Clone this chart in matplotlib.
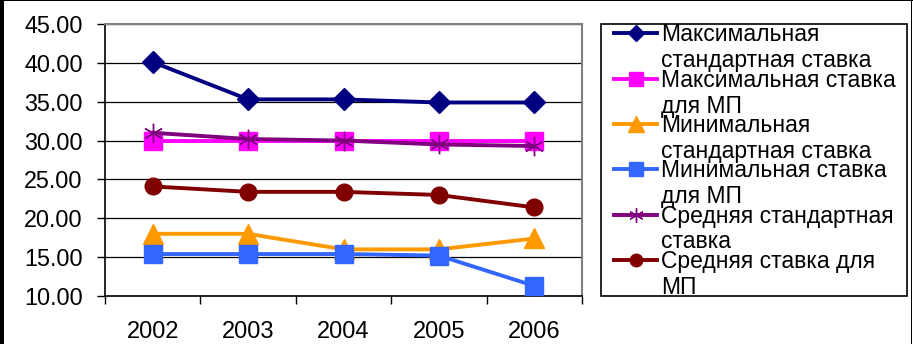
import matplotlib
matplotlib.use('Agg')
import matplotlib.pyplot as plt
from matplotlib.lines import Line2D
from matplotlib.patches import Rectangle

plt.rcParams['font.family'] = ['Liberation Sans', 'DejaVu Sans']

years = ['2002', '2003', '2004', '2005', '2006']
max_std = [40.1, 35.3, 35.3, 34.9, 34.9]
max_mp = [30.0, 30.0, 30.0, 30.0, 30.0]
min_std = [18.0, 18.0, 16.0, 16.0, 17.4]
min_mp = [15.4, 15.4, 15.4, 15.2, 11.3]
avg_std = [31.0, 30.2, 30.0, 29.5, 29.3]
avg_mp = [24.1, 23.4, 23.4, 23.0, 21.4]

labels = [
    ['Максимальная', 'стандартная ставка'],
    ['Максимальная ставка', 'для МП'],
    ['Минимальная', 'стандартная ставка'],
    ['Минимальная ставка', 'для МП'],
    ['Средняя стандартная', 'ставка'],
    ['Средняя ставка для', 'МП'],
]

W, H = 913, 344
fig = plt.figure(figsize=(W / 100, H / 100), dpi=100)
fig.patch.set_facecolor('white')


def fx(px):
    return px / W


def fy(py):
    return 1 - py / H


ax = fig.add_axes([fx(105), fy(296), fx(582) - fx(105), fy(24) - fy(296)])

styles = [
    dict(color='#000080', marker='D', ms=11, mfc='#000080', mec='#000080'),
    dict(color='#FF00FF', marker='s', ms=13, mfc='#FF00FF', mec='#FF00FF'),
    dict(color='#FF9900', marker='^', ms=15, mfc='#FF9900', mec='#FF9900'),
    dict(color='#3366FF', marker='s', ms=13, mfc='#3366FF', mec='#3366FF'),
    dict(color='#800080', marker=(6, 2, 0), ms=14, mec='#800080', mew=1),
    dict(color='#800000', marker='o', ms=12, mfc='#800000', mec='#800000'),
]
series = [max_std, max_mp, min_std, min_mp, avg_std, avg_mp]
x = list(range(len(years)))
for vals, st in zip(series, styles):
    ax.plot(x, vals, lw=2.8, clip_on=False, zorder=3, **st)

ax.set_xlim(-0.5, len(years) - 0.5)
ax.set_ylim(10, 45)
ax.set_yticks([10, 15, 20, 25, 30, 35, 40, 45])
ax.set_yticklabels(['%.2f' % v for v in [10, 15, 20, 25, 30, 35, 40, 45]])
ax.yaxis.grid(True, color='black', lw=0.9)
ax.set_axisbelow(True)

ax.set_xticks([i - 0.5 for i in range(len(years) + 1)])
ax.set_xticklabels([])
ax.set_xticks(x, minor=True)
ax.set_xticklabels(years, minor=True)
ax.tick_params(axis='x', which='major', length=6, width=1, direction='out', color='black')
ax.tick_params(axis='x', which='minor', length=0, pad=18, labelsize=17)
ax.tick_params(axis='y', length=6, width=1, direction='out', pad=10, labelsize=16.8)

for s in ['left', 'bottom']:
    ax.spines[s].set_color('black')
    ax.spines[s].set_linewidth(1.2)
for s in ['top', 'right']:
    ax.spines[s].set_color('#808080')
    ax.spines[s].set_linewidth(1.5)

# legend box
fig.patches.append(Rectangle((fx(601), fy(296)), fx(907) - fx(601), fy(24) - fy(296),
                             transform=fig.transFigure, fill=False, ec='black', lw=1.2))
for i, (lab, st) in enumerate(zip(labels, styles)):
    my = 33.3 + 45.3 * i
    fig.lines.append(Line2D([fx(614), fx(657)], [fy(my), fy(my)], transform=fig.transFigure,
                            lw=2.8, color=st['color']))
    mst = {k: v for k, v in st.items() if k != 'color'}
    mst['ms'] = mst['ms'] * 0.75
    fig.lines.append(Line2D([fx(635.5)], [fy(my)], transform=fig.transFigure, ls='none', **mst))
    fig.text(fx(661), fy(my + 8), lab[0], fontsize=16.5, va='baseline', ha='left')
    fig.text(fx(661), fy(my + 34), lab[1], fontsize=16.5, va='baseline', ha='left')

# outer frame
fig.patches.append(Rectangle((0, 0), fx(4), 1, transform=fig.transFigure, color='black', lw=0))
fig.patches.append(Rectangle((0, fy(1)), 1, fy(0) - fy(1), transform=fig.transFigure, color='black', lw=0))
fig.patches.append(Rectangle((fx(911), 0), fx(1), 1, transform=fig.transFigure, color='black', lw=0))

fig.savefig('out.png', dpi=100)
